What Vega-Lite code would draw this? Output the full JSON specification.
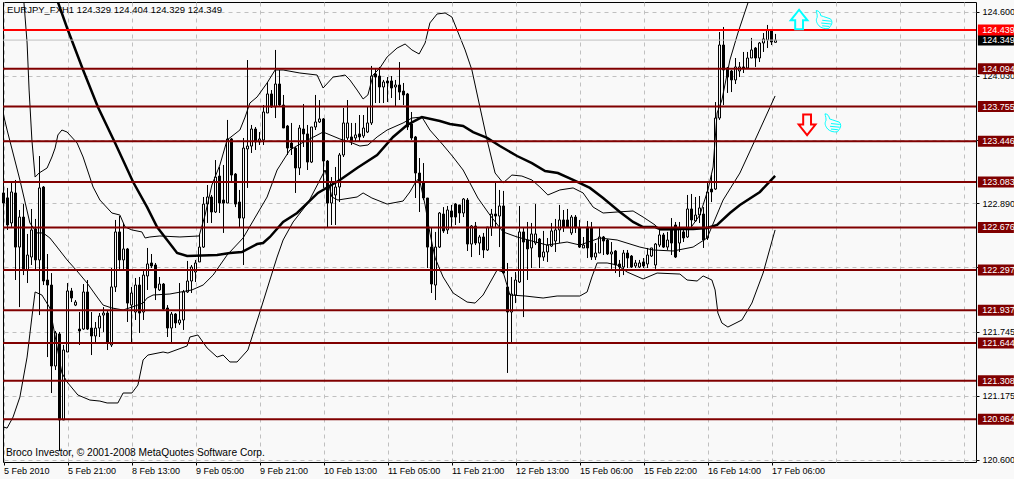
{
  "$schema": "https://vega.github.io/schema/vega-lite/v6.json",
  "width": 973,
  "height": 460,
  "autosize": {"type": "none"},
  "padding": {"left": 3, "top": 2, "right": 38, "bottom": 17},
  "background": "#f9f9f9",
  "view": {"stroke": "#000000", "strokeWidth": 1, "fill": "#f9f9f9"},
  "config": {
    "font": "Liberation Sans",
    "axis": {"labelFont": "Liberation Sans", "labelFontSize": 9, "labelColor": "#000000", "title": null}
  },
  "datasets": {
    "candles": [
      {"i":0,"o":122.984,"h":122.984,"l":122.894,"c":122.894},
      {"i":1,"o":122.940,"h":123.029,"l":122.654,"c":122.698},
      {"i":2,"o":122.716,"h":123.073,"l":122.681,"c":122.993},
      {"i":3,"o":122.984,"h":123.100,"l":122.207,"c":122.501},
      {"i":4,"o":122.501,"h":122.832,"l":121.965,"c":122.769},
      {"i":5,"o":122.769,"h":122.885,"l":122.251,"c":122.306},
      {"i":6,"o":122.296,"h":122.618,"l":122.180,"c":122.430},
      {"i":7,"o":122.412,"h":122.841,"l":122.341,"c":122.654},
      {"i":8,"o":122.663,"h":122.752,"l":122.296,"c":122.386},
      {"i":9,"o":122.386,"h":123.314,"l":121.894,"c":123.029},
      {"i":10,"o":123.037,"h":123.046,"l":122.162,"c":122.198},
      {"i":11,"o":122.207,"h":122.439,"l":121.519,"c":122.162},
      {"i":12,"o":122.162,"h":122.269,"l":121.198,"c":121.439},
      {"i":13,"o":121.439,"h":121.752,"l":121.403,"c":121.734},
      {"i":14,"o":121.725,"h":121.743,"l":120.680,"c":120.957},
      {"i":15,"o":120.957,"h":121.627,"l":120.957,"c":121.582},
      {"i":16,"o":121.564,"h":122.180,"l":121.564,"c":122.109},
      {"i":17,"o":122.109,"h":122.136,"l":122.010,"c":122.046},
      {"i":18,"o":121.983,"h":122.028,"l":121.974,"c":122.010},
      {"i":19,"o":121.769,"h":121.921,"l":121.627,"c":121.752},
      {"i":20,"o":121.769,"h":122.171,"l":121.761,"c":122.100},
      {"i":21,"o":122.100,"h":122.207,"l":121.761,"c":121.769},
      {"i":22,"o":121.778,"h":121.921,"l":121.537,"c":121.707},
      {"i":23,"o":121.707,"h":121.832,"l":121.644,"c":121.778},
      {"i":24,"o":121.778,"h":121.912,"l":121.698,"c":121.885},
      {"i":25,"o":121.894,"h":121.965,"l":121.743,"c":121.912},
      {"i":26,"o":121.912,"h":121.930,"l":121.582,"c":121.644},
      {"i":27,"o":121.627,"h":122.314,"l":121.609,"c":122.145},
      {"i":28,"o":122.145,"h":122.743,"l":122.100,"c":122.636},
      {"i":29,"o":122.636,"h":122.778,"l":122.296,"c":122.386},
      {"i":30,"o":122.386,"h":122.716,"l":122.296,"c":122.484},
      {"i":31,"o":122.484,"h":122.493,"l":121.832,"c":122.001},
      {"i":32,"o":121.983,"h":122.145,"l":121.653,"c":122.091},
      {"i":33,"o":121.921,"h":122.225,"l":121.850,"c":122.162},
      {"i":34,"o":122.162,"h":122.234,"l":121.734,"c":121.912},
      {"i":35,"o":121.921,"h":122.296,"l":121.850,"c":122.251},
      {"i":36,"o":122.243,"h":122.493,"l":122.118,"c":122.350},
      {"i":37,"o":122.359,"h":122.439,"l":122.314,"c":122.332},
      {"i":38,"o":122.341,"h":122.359,"l":122.028,"c":122.136},
      {"i":39,"o":122.118,"h":122.234,"l":122.109,"c":122.171},
      {"i":40,"o":122.171,"h":122.180,"l":121.939,"c":121.948},
      {"i":41,"o":121.957,"h":121.983,"l":121.698,"c":121.778},
      {"i":42,"o":121.778,"h":121.921,"l":121.653,"c":121.903},
      {"i":43,"o":121.903,"h":121.912,"l":121.778,"c":121.823},
      {"i":44,"o":121.823,"h":122.180,"l":121.805,"c":121.850},
      {"i":45,"o":121.850,"h":122.118,"l":121.761,"c":122.100},
      {"i":46,"o":122.100,"h":122.377,"l":122.091,"c":122.198},
      {"i":47,"o":122.198,"h":122.341,"l":122.091,"c":122.323},
      {"i":48,"o":122.278,"h":122.386,"l":122.189,"c":122.359},
      {"i":49,"o":122.368,"h":122.609,"l":122.368,"c":122.501},
      {"i":50,"o":122.501,"h":122.948,"l":122.493,"c":122.885},
      {"i":51,"o":122.885,"h":123.055,"l":122.716,"c":122.948},
      {"i":52,"o":122.948,"h":122.966,"l":122.716,"c":122.814},
      {"i":53,"o":122.814,"h":123.278,"l":122.805,"c":123.126},
      {"i":54,"o":123.135,"h":123.216,"l":122.805,"c":122.894},
      {"i":55,"o":122.921,"h":123.234,"l":122.627,"c":122.894},
      {"i":56,"o":122.894,"h":123.636,"l":122.894,"c":123.466},
      {"i":57,"o":123.466,"h":123.475,"l":123.082,"c":123.144},
      {"i":58,"o":123.153,"h":123.162,"l":122.858,"c":122.885},
      {"i":59,"o":122.903,"h":123.011,"l":122.680,"c":122.760},
      {"i":60,"o":122.760,"h":123.475,"l":122.341,"c":123.385},
      {"i":61,"o":123.377,"h":124.171,"l":123.029,"c":123.403},
      {"i":62,"o":123.403,"h":123.591,"l":123.341,"c":123.555},
      {"i":63,"o":123.555,"h":123.573,"l":123.368,"c":123.439},
      {"i":64,"o":123.439,"h":123.528,"l":123.412,"c":123.466},
      {"i":65,"o":123.457,"h":123.769,"l":123.412,"c":123.707},
      {"i":66,"o":123.698,"h":123.975,"l":123.698,"c":123.868},
      {"i":67,"o":123.868,"h":123.903,"l":123.743,"c":123.752},
      {"i":68,"o":123.752,"h":124.261,"l":123.653,"c":123.957},
      {"i":69,"o":123.957,"h":124.082,"l":123.752,"c":123.769},
      {"i":70,"o":123.769,"h":123.859,"l":123.564,"c":123.564},
      {"i":71,"o":123.582,"h":123.591,"l":123.323,"c":123.385},
      {"i":72,"o":123.430,"h":123.609,"l":123.323,"c":123.385},
      {"i":73,"o":123.385,"h":123.394,"l":122.984,"c":123.207},
      {"i":74,"o":123.207,"h":123.591,"l":123.144,"c":123.564},
      {"i":75,"o":123.555,"h":123.778,"l":123.394,"c":123.511},
      {"i":76,"o":123.511,"h":123.591,"l":123.189,"c":123.260},
      {"i":77,"o":123.260,"h":123.573,"l":123.251,"c":123.573},
      {"i":78,"o":123.573,"h":123.859,"l":123.546,"c":123.618},
      {"i":79,"o":123.618,"h":123.814,"l":123.609,"c":123.645},
      {"i":80,"o":123.645,"h":123.653,"l":123.029,"c":123.269},
      {"i":81,"o":123.269,"h":123.278,"l":122.680,"c":122.894},
      {"i":82,"o":122.894,"h":123.126,"l":122.698,"c":123.082},
      {"i":83,"o":122.966,"h":123.216,"l":122.698,"c":123.037},
      {"i":84,"o":123.037,"h":123.341,"l":122.903,"c":123.323},
      {"i":85,"o":123.323,"h":123.743,"l":123.305,"c":123.609},
      {"i":86,"o":123.475,"h":123.814,"l":123.457,"c":123.609},
      {"i":87,"o":123.484,"h":123.609,"l":123.412,"c":123.448},
      {"i":88,"o":123.475,"h":123.609,"l":123.439,"c":123.502},
      {"i":89,"o":123.511,"h":123.680,"l":123.439,"c":123.484},
      {"i":90,"o":123.493,"h":123.680,"l":123.475,"c":123.564},
      {"i":91,"o":123.528,"h":123.752,"l":123.519,"c":123.609},
      {"i":92,"o":123.609,"h":124.118,"l":123.591,"c":124.028},
      {"i":93,"o":124.046,"h":124.100,"l":123.787,"c":124.019},
      {"i":94,"o":124.028,"h":124.109,"l":123.787,"c":123.930},
      {"i":95,"o":123.930,"h":123.993,"l":123.787,"c":123.975},
      {"i":96,"o":123.984,"h":124.019,"l":123.796,"c":123.966},
      {"i":97,"o":123.984,"h":124.028,"l":123.832,"c":123.921},
      {"i":98,"o":123.930,"h":123.993,"l":123.760,"c":123.948},
      {"i":99,"o":123.948,"h":124.153,"l":123.814,"c":123.885},
      {"i":100,"o":123.894,"h":123.966,"l":123.769,"c":123.859},
      {"i":101,"o":123.868,"h":123.877,"l":123.546,"c":123.573},
      {"i":102,"o":123.600,"h":123.707,"l":123.457,"c":123.475},
      {"i":103,"o":123.484,"h":123.493,"l":122.939,"c":123.162},
      {"i":104,"o":123.162,"h":123.296,"l":122.814,"c":123.073},
      {"i":105,"o":123.073,"h":123.251,"l":122.921,"c":122.939},
      {"i":106,"o":122.939,"h":122.939,"l":122.314,"c":122.501},
      {"i":107,"o":122.501,"h":122.680,"l":122.091,"c":122.171},
      {"i":108,"o":122.162,"h":122.636,"l":122.028,"c":122.501},
      {"i":109,"o":122.501,"h":122.814,"l":122.493,"c":122.805},
      {"i":110,"o":122.796,"h":122.858,"l":122.627,"c":122.645},
      {"i":111,"o":122.654,"h":122.868,"l":122.618,"c":122.832},
      {"i":112,"o":122.823,"h":122.877,"l":122.671,"c":122.769},
      {"i":113,"o":122.885,"h":122.894,"l":122.698,"c":122.769},
      {"i":114,"o":122.877,"h":122.877,"l":122.716,"c":122.805},
      {"i":115,"o":122.805,"h":122.939,"l":122.769,"c":122.930},
      {"i":116,"o":122.921,"h":122.939,"l":122.466,"c":122.528},
      {"i":117,"o":122.528,"h":122.698,"l":122.412,"c":122.689},
      {"i":118,"o":122.689,"h":122.725,"l":122.519,"c":122.537},
      {"i":119,"o":122.537,"h":122.609,"l":122.430,"c":122.591},
      {"i":120,"o":122.591,"h":122.627,"l":122.403,"c":122.475},
      {"i":121,"o":122.475,"h":122.680,"l":122.466,"c":122.680},
      {"i":122,"o":122.680,"h":122.841,"l":122.600,"c":122.796},
      {"i":123,"o":122.796,"h":123.073,"l":122.680,"c":122.778},
      {"i":124,"o":122.778,"h":123.011,"l":122.501,"c":122.868},
      {"i":125,"o":122.868,"h":123.002,"l":122.269,"c":122.269},
      {"i":126,"o":122.145,"h":122.359,"l":121.377,"c":121.921},
      {"i":127,"o":121.921,"h":122.234,"l":121.653,"c":122.082},
      {"i":128,"o":122.073,"h":122.278,"l":122.001,"c":122.207},
      {"i":129,"o":122.189,"h":122.868,"l":122.180,"c":122.636},
      {"i":130,"o":122.636,"h":122.671,"l":121.876,"c":122.546},
      {"i":131,"o":122.564,"h":122.725,"l":122.207,"c":122.484},
      {"i":132,"o":122.493,"h":122.716,"l":122.314,"c":122.618},
      {"i":133,"o":122.537,"h":122.885,"l":122.519,"c":122.618},
      {"i":134,"o":122.573,"h":122.582,"l":122.314,"c":122.412},
      {"i":135,"o":122.412,"h":122.645,"l":122.377,"c":122.457},
      {"i":136,"o":122.457,"h":122.582,"l":122.368,"c":122.519},
      {"i":137,"o":122.510,"h":122.716,"l":122.501,"c":122.645},
      {"i":138,"o":122.555,"h":122.752,"l":122.457,"c":122.654},
      {"i":139,"o":122.654,"h":122.877,"l":122.537,"c":122.743},
      {"i":140,"o":122.743,"h":122.832,"l":122.636,"c":122.680},
      {"i":141,"o":122.743,"h":122.841,"l":122.671,"c":122.680},
      {"i":142,"o":122.627,"h":122.787,"l":122.609,"c":122.769},
      {"i":143,"o":122.769,"h":122.787,"l":122.627,"c":122.671},
      {"i":144,"o":122.671,"h":122.743,"l":122.493,"c":122.501},
      {"i":145,"o":122.493,"h":122.591,"l":122.493,"c":122.519},
      {"i":146,"o":122.680,"h":122.734,"l":122.403,"c":122.493},
      {"i":147,"o":122.671,"h":122.725,"l":122.386,"c":122.412},
      {"i":148,"o":122.412,"h":122.537,"l":122.386,"c":122.448},
      {"i":149,"o":122.448,"h":122.680,"l":122.448,"c":122.591},
      {"i":150,"o":122.591,"h":122.600,"l":122.430,"c":122.555},
      {"i":151,"o":122.564,"h":122.573,"l":122.430,"c":122.439},
      {"i":152,"o":122.439,"h":122.546,"l":122.306,"c":122.457},
      {"i":153,"o":122.466,"h":122.475,"l":122.269,"c":122.341},
      {"i":154,"o":122.350,"h":122.386,"l":122.234,"c":122.323},
      {"i":155,"o":122.323,"h":122.475,"l":122.251,"c":122.448},
      {"i":156,"o":122.448,"h":122.475,"l":122.314,"c":122.403},
      {"i":157,"o":122.421,"h":122.430,"l":122.314,"c":122.323},
      {"i":158,"o":122.332,"h":122.386,"l":122.314,"c":122.359},
      {"i":159,"o":122.323,"h":122.386,"l":122.314,"c":122.359},
      {"i":160,"o":122.368,"h":122.403,"l":122.314,"c":122.332},
      {"i":161,"o":122.350,"h":122.493,"l":122.314,"c":122.430},
      {"i":162,"o":122.421,"h":122.493,"l":122.412,"c":122.493},
      {"i":163,"o":122.341,"h":122.537,"l":122.306,"c":122.528},
      {"i":164,"o":122.519,"h":122.654,"l":122.501,"c":122.609},
      {"i":165,"o":122.609,"h":122.627,"l":122.493,"c":122.501},
      {"i":166,"o":122.501,"h":122.636,"l":122.475,"c":122.564},
      {"i":167,"o":122.671,"h":122.760,"l":122.430,"c":122.537},
      {"i":168,"o":122.698,"h":122.725,"l":122.403,"c":122.412},
      {"i":169,"o":122.537,"h":122.725,"l":122.457,"c":122.671},
      {"i":170,"o":122.636,"h":122.671,"l":122.546,"c":122.582},
      {"i":171,"o":122.591,"h":122.966,"l":122.582,"c":122.841},
      {"i":172,"o":122.841,"h":122.975,"l":122.671,"c":122.743},
      {"i":173,"o":122.734,"h":122.948,"l":122.725,"c":122.787},
      {"i":174,"o":122.787,"h":122.957,"l":122.716,"c":122.850},
      {"i":175,"o":122.796,"h":122.858,"l":122.493,"c":122.564},
      {"i":176,"o":122.582,"h":123.073,"l":122.564,"c":122.993},
      {"i":177,"o":123.019,"h":123.144,"l":122.903,"c":122.993},
      {"i":178,"o":123.019,"h":123.796,"l":123.011,"c":123.653},
      {"i":179,"o":123.653,"h":124.421,"l":123.636,"c":124.305},
      {"i":180,"o":124.305,"h":124.466,"l":123.769,"c":124.082},
      {"i":181,"o":124.100,"h":124.109,"l":123.877,"c":124.019},
      {"i":182,"o":124.073,"h":124.082,"l":123.885,"c":123.993},
      {"i":183,"o":123.993,"h":124.189,"l":123.957,"c":124.109},
      {"i":184,"o":124.073,"h":124.153,"l":124.019,"c":124.109},
      {"i":185,"o":124.109,"h":124.243,"l":124.055,"c":124.100},
      {"i":186,"o":124.100,"h":124.243,"l":124.100,"c":124.189},
      {"i":187,"o":124.189,"h":124.368,"l":124.189,"c":124.261},
      {"i":188,"o":124.278,"h":124.287,"l":124.109,"c":124.189},
      {"i":189,"o":124.189,"h":124.332,"l":124.153,"c":124.323},
      {"i":190,"o":124.323,"h":124.412,"l":124.243,"c":124.359},
      {"i":191,"o":124.350,"h":124.484,"l":124.278,"c":124.439},
      {"i":192,"o":124.430,"h":124.430,"l":124.305,"c":124.332},
      {"i":193,"o":124.329,"h":124.404,"l":124.329,"c":124.349}
    ],
    "bands": [
      {"s":"upper","i":5.1,"v":124.689},{"s":"upper","i":5.9,"v":124.323},{"s":"upper","i":6.4,"v":123.903},{"s":"upper","i":7.1,"v":123.457},{"s":"upper","i":7.9,"v":123.126},{"s":"upper","i":8.9,"v":123.162},{"s":"upper","i":10.9,"v":123.207},{"s":"upper","i":12.1,"v":123.305},{"s":"upper","i":12.9,"v":123.385},{"s":"upper","i":13.6,"v":123.502},{"s":"upper","i":14.6,"v":123.546},{"s":"upper","i":15.9,"v":123.528},{"s":"upper","i":18.4,"v":123.430},{"s":"upper","i":19.9,"v":123.305},{"s":"upper","i":22.4,"v":123.037},{"s":"upper","i":24.1,"v":122.921},{"s":"upper","i":27.1,"v":122.805},{"s":"upper","i":29.1,"v":122.787},{"s":"upper","i":30.4,"v":122.680},{"s":"upper","i":32.1,"v":122.654},{"s":"upper","i":34.6,"v":122.636},{"s":"upper","i":35.4,"v":122.582},{"s":"upper","i":36.6,"v":122.591},{"s":"upper","i":39.1,"v":122.600},{"s":"upper","i":44.1,"v":122.591},{"s":"upper","i":48.9,"v":122.600},{"s":"upper","i":50.4,"v":122.787},{"s":"upper","i":52.1,"v":123.055},{"s":"upper","i":54.1,"v":123.234},{"s":"upper","i":55.9,"v":123.457},{"s":"upper","i":59.1,"v":123.546},{"s":"upper","i":60.4,"v":123.662},{"s":"upper","i":61.6,"v":123.787},{"s":"upper","i":63.4,"v":123.841},{"s":"upper","i":65.9,"v":123.966},{"s":"upper","i":67.9,"v":124.082},{"s":"upper","i":69.9,"v":124.082},{"s":"upper","i":74.1,"v":124.055},{"s":"upper","i":78.4,"v":124.037},{"s":"upper","i":79.9,"v":123.921},{"s":"upper","i":82.4,"v":124.019},{"s":"upper","i":84.1,"v":124.028},{"s":"upper","i":85.4,"v":124.037},{"s":"upper","i":86.6,"v":123.993},{"s":"upper","i":88.4,"v":123.903},{"s":"upper","i":89.9,"v":123.823},{"s":"upper","i":91.1,"v":123.859},{"s":"upper","i":92.4,"v":124.037},{"s":"upper","i":94.1,"v":124.100},{"s":"upper","i":95.9,"v":124.198},{"s":"upper","i":98.4,"v":124.278},{"s":"upper","i":100.4,"v":124.314},{"s":"upper","i":102.1,"v":124.261},{"s":"upper","i":103.9,"v":124.225},{"s":"upper","i":105.4,"v":124.323},{"s":"upper","i":106.6,"v":124.502},{"s":"upper","i":108.4,"v":124.582},{"s":"upper","i":110.4,"v":124.591},{"s":"upper","i":112.1,"v":124.555},{"s":"upper","i":113.4,"v":124.439},{"s":"upper","i":115.4,"v":124.261},{"s":"upper","i":117.1,"v":124.082},{"s":"upper","i":119.1,"v":123.752},{"s":"upper","i":120.9,"v":123.457},{"s":"upper","i":122.9,"v":123.162},{"s":"upper","i":124.9,"v":123.073},{"s":"upper","i":127.1,"v":123.144},{"s":"upper","i":129.6,"v":123.135},{"s":"upper","i":132.1,"v":123.100},{"s":"upper","i":134.1,"v":123.037},{"s":"upper","i":136.1,"v":122.966},{"s":"upper","i":139.1,"v":123.011},{"s":"upper","i":142.4,"v":123.029},{"s":"upper","i":144.9,"v":122.984},{"s":"upper","i":147.4,"v":122.858},{"s":"upper","i":149.9,"v":122.805},{"s":"upper","i":153.4,"v":122.814},{"s":"upper","i":157.4,"v":122.823},{"s":"upper","i":159.9,"v":122.769},{"s":"upper","i":162.9,"v":122.698},{"s":"upper","i":164.1,"v":122.654},{"s":"upper","i":167.4,"v":122.654},{"s":"upper","i":171.6,"v":122.663},{"s":"upper","i":174.1,"v":122.787},{"s":"upper","i":176.1,"v":123.011},{"s":"upper","i":177.4,"v":123.216},{"s":"upper","i":178.4,"v":123.698},{"s":"upper","i":179.6,"v":123.814},{"s":"upper","i":181.6,"v":124.171},{"s":"upper","i":183.6,"v":124.412},{"s":"upper","i":186.1,"v":124.680},
      {"s":"middle","i":0,"v":123.680},{"s":"middle","i":0.9,"v":123.546},{"s":"middle","i":4.1,"v":123.100},{"s":"middle","i":6.6,"v":122.716},{"s":"middle","i":8.4,"v":122.627},{"s":"middle","i":9.9,"v":122.627},{"s":"middle","i":11.6,"v":122.582},{"s":"middle","i":13.4,"v":122.501},{"s":"middle","i":15.9,"v":122.386},{"s":"middle","i":18.6,"v":122.278},{"s":"middle","i":20.9,"v":122.180},{"s":"middle","i":23.4,"v":122.055},{"s":"middle","i":24.9,"v":121.983},{"s":"middle","i":27.1,"v":121.957},{"s":"middle","i":29.9,"v":121.939},{"s":"middle","i":32.1,"v":121.965},{"s":"middle","i":34.9,"v":122.001},{"s":"middle","i":35.9,"v":122.046},{"s":"middle","i":37.4,"v":122.073},{"s":"middle","i":41.6,"v":122.082},{"s":"middle","i":47.1,"v":122.118},{"s":"middle","i":49.9,"v":122.162},{"s":"middle","i":52.4,"v":122.251},{"s":"middle","i":55.9,"v":122.430},{"s":"middle","i":59.9,"v":122.582},{"s":"middle","i":65.9,"v":122.948},{"s":"middle","i":68.4,"v":123.189},{"s":"middle","i":71.6,"v":123.368},{"s":"middle","i":74.6,"v":123.430},{"s":"middle","i":79.9,"v":123.528},{"s":"middle","i":84.1,"v":123.466},{"s":"middle","i":86.6,"v":123.439},{"s":"middle","i":89.1,"v":123.403},{"s":"middle","i":91.1,"v":123.412},{"s":"middle","i":93.4,"v":123.484},{"s":"middle","i":95.9,"v":123.546},{"s":"middle","i":99.9,"v":123.609},{"s":"middle","i":102.1,"v":123.653},{"s":"middle","i":104.6,"v":123.662},{"s":"middle","i":106.6,"v":123.546},{"s":"middle","i":109.9,"v":123.412},{"s":"middle","i":112.4,"v":123.305},{"s":"middle","i":114.9,"v":123.189},{"s":"middle","i":118.6,"v":122.939},{"s":"middle","i":121.6,"v":122.787},{"s":"middle","i":124.9,"v":122.636},{"s":"middle","i":128.4,"v":122.591},{"s":"middle","i":135.9,"v":122.519},{"s":"middle","i":140.9,"v":122.546},{"s":"middle","i":144.1,"v":122.519},{"s":"middle","i":149.1,"v":122.582},{"s":"middle","i":153.4,"v":122.564},{"s":"middle","i":159.1,"v":122.501},{"s":"middle","i":162.4,"v":122.475},{"s":"middle","i":167.4,"v":122.466},{"s":"middle","i":172.4,"v":122.501},{"s":"middle","i":175.9,"v":122.582},{"s":"middle","i":179.9,"v":122.921},{"s":"middle","i":184.1,"v":123.162},{"s":"middle","i":187.9,"v":123.457},{"s":"middle","i":192.9,"v":123.850},
      {"s":"lower","i":0,"v":120.894},{"s":"lower","i":0.9,"v":120.885},{"s":"lower","i":2.4,"v":120.984},{"s":"lower","i":4.1,"v":121.162},{"s":"lower","i":5.9,"v":121.519},{"s":"lower","i":7.1,"v":121.876},{"s":"lower","i":7.9,"v":122.100},{"s":"lower","i":9.6,"v":122.073},{"s":"lower","i":11.6,"v":121.957},{"s":"lower","i":14.6,"v":121.377},{"s":"lower","i":15.9,"v":121.296},{"s":"lower","i":18.6,"v":121.180},{"s":"lower","i":21.6,"v":121.135},{"s":"lower","i":24.1,"v":121.126},{"s":"lower","i":25.9,"v":121.109},{"s":"lower","i":28.6,"v":121.109},{"s":"lower","i":29.9,"v":121.198},{"s":"lower","i":32.1,"v":121.198},{"s":"lower","i":33.6,"v":121.269},{"s":"lower","i":34.9,"v":121.493},{"s":"lower","i":36.1,"v":121.537},{"s":"lower","i":39.9,"v":121.564},{"s":"lower","i":41.1,"v":121.555},{"s":"lower","i":45.9,"v":121.618},{"s":"lower","i":46.6,"v":121.698},{"s":"lower","i":48.6,"v":121.716},{"s":"lower","i":50.9,"v":121.600},{"s":"lower","i":53.4,"v":121.519},{"s":"lower","i":54.9,"v":121.537},{"s":"lower","i":56.6,"v":121.475},{"s":"lower","i":58.4,"v":121.475},{"s":"lower","i":61.1,"v":121.582},{"s":"lower","i":64.1,"v":121.921},{"s":"lower","i":66.6,"v":122.207},{"s":"lower","i":68.4,"v":122.412},{"s":"lower","i":69.9,"v":122.564},{"s":"lower","i":72.4,"v":122.725},{"s":"lower","i":76.1,"v":122.894},{"s":"lower","i":79.1,"v":123.100},{"s":"lower","i":80.4,"v":123.189},{"s":"lower","i":82.1,"v":122.948},{"s":"lower","i":83.6,"v":122.921},{"s":"lower","i":88.4,"v":122.948},{"s":"lower","i":89.9,"v":122.984},{"s":"lower","i":92.1,"v":122.939},{"s":"lower","i":95.9,"v":122.885},{"s":"lower","i":99.9,"v":122.912},{"s":"lower","i":101.6,"v":122.993},{"s":"lower","i":102.9,"v":123.073},{"s":"lower","i":103.9,"v":123.118},{"s":"lower","i":105.4,"v":122.877},{"s":"lower","i":106.6,"v":122.627},{"s":"lower","i":107.9,"v":122.403},{"s":"lower","i":109.9,"v":122.234},{"s":"lower","i":112.4,"v":122.091},{"s":"lower","i":115.9,"v":122.010},{"s":"lower","i":117.9,"v":122.001},{"s":"lower","i":119.9,"v":122.073},{"s":"lower","i":123.4,"v":122.296},{"s":"lower","i":124.9,"v":122.278},{"s":"lower","i":126.6,"v":122.073},{"s":"lower","i":130.4,"v":122.064},{"s":"lower","i":134.9,"v":122.046},{"s":"lower","i":138.4,"v":122.064},{"s":"lower","i":144.1,"v":122.064},{"s":"lower","i":145.9,"v":122.100},{"s":"lower","i":147.1,"v":122.234},{"s":"lower","i":148.4,"v":122.359},{"s":"lower","i":150.9,"v":122.359},{"s":"lower","i":153.4,"v":122.341},{"s":"lower","i":155.9,"v":122.278},{"s":"lower","i":159.9,"v":122.216},{"s":"lower","i":163.4,"v":122.269},{"s":"lower","i":169.1,"v":122.260},{"s":"lower","i":170.9,"v":122.207},{"s":"lower","i":173.4,"v":122.198},{"s":"lower","i":174.9,"v":122.243},{"s":"lower","i":177.1,"v":122.207},{"s":"lower","i":177.9,"v":122.118},{"s":"lower","i":178.6,"v":121.912},{"s":"lower","i":179.6,"v":121.823},{"s":"lower","i":181.1,"v":121.787},{"s":"lower","i":184.6,"v":121.850},{"s":"lower","i":187.1,"v":122.001},{"s":"lower","i":189.9,"v":122.269},{"s":"lower","i":192.9,"v":122.654}
    ],
    "ma": [
      {"i":13.6,"v":124.689},{"i":15.9,"v":124.457},{"i":19.9,"v":124.082},{"i":23.6,"v":123.752},{"i":27.9,"v":123.430},{"i":32.4,"v":123.082},{"i":35.9,"v":122.858},{"i":38.4,"v":122.680},{"i":40.9,"v":122.564},{"i":43.4,"v":122.448},{"i":45.9,"v":122.421},{"i":53.4,"v":122.430},{"i":56.6,"v":122.448},{"i":59.6,"v":122.457},{"i":63.4,"v":122.528},{"i":64.9,"v":122.537},{"i":66.6,"v":122.591},{"i":69.9,"v":122.725},{"i":73.4,"v":122.805},{"i":78.6,"v":122.984},{"i":84.1,"v":123.100},{"i":88.4,"v":123.207},{"i":93.4,"v":123.323},{"i":97.4,"v":123.484},{"i":100.9,"v":123.591},{"i":104.6,"v":123.662},{"i":109.1,"v":123.627},{"i":111.6,"v":123.600},{"i":114.9,"v":123.582},{"i":117.4,"v":123.528},{"i":120.9,"v":123.475},{"i":124.1,"v":123.403},{"i":128.4,"v":123.314},{"i":132.1,"v":123.251},{"i":135.4,"v":123.180},{"i":138.6,"v":123.162},{"i":142.4,"v":123.100},{"i":146.6,"v":123.029},{"i":149.9,"v":122.939},{"i":154.1,"v":122.814},{"i":157.4,"v":122.725},{"i":159.9,"v":122.680},{"i":162.9,"v":122.680},{"i":164.1,"v":122.663},{"i":172.4,"v":122.663},{"i":175.9,"v":122.671},{"i":178.4,"v":122.698},{"i":181.6,"v":122.805},{"i":184.1,"v":122.876},{"i":189.1,"v":122.993},{"i":192.9,"v":123.136}
    ],
    "levels": [
      {"price":124.439,"kind":"top"},{"price":124.094,"kind":"level"},{"price":123.755,"kind":"level"},{"price":123.446,"kind":"level"},{"price":123.083,"kind":"level"},{"price":122.676,"kind":"level"},{"price":122.297,"kind":"level"},{"price":121.937,"kind":"level"},{"price":121.644,"kind":"level"},{"price":121.308,"kind":"level"},{"price":120.964,"kind":"level"}
    ],
    "tags": [
      {"price":124.349,"kind":"bid"},{"price":124.439,"kind":"top"},{"price":124.094,"kind":"level"},{"price":123.755,"kind":"level"},{"price":123.446,"kind":"level"},{"price":123.083,"kind":"level"},{"price":122.676,"kind":"level"},{"price":122.297,"kind":"level"},{"price":121.937,"kind":"level"},{"price":121.644,"kind":"level"},{"price":121.308,"kind":"level"},{"price":120.964,"kind":"level"}
    ]
  },
  "layer": [
    {
      "data": {"name": "candles"},
      "mark": {"type": "rule", "color": "#000000", "strokeWidth": 1},
      "encoding": {
        "x": {
          "field": "i",
          "type": "quantitative",
          "scale": {"domain": [-0.125, 243.125], "nice": false, "zero": false, "padding": 0},
          "axis": {
            "values": [0,8,16,24,32,40,48,56,64,72,80,88,96,104,112,120,128,136,144,152,160,168,176,184,192,200,208,216,224,232,240],
            "grid": true,
            "gridColor": "#c0c0c0",
            "gridDash": [4, 4],
            "gridWidth": 1,
            "domain": false,
            "tickColor": "#000000",
            "tickSize": 3,
            "tickOpacity": {"condition": {"test": "datum.value % 16 == 0 && datum.value <= 192", "value": 1}, "value": 0},
            "labelAlign": "left",
            "labelPadding": 1,
            "labelOverlap": false,
            "labelFlush": false,
            "labelExpr": "{'0':'5 Feb 2010','16':'5 Feb 21:00','32':'8 Feb 13:00','48':'9 Feb 05:00','64':'9 Feb 21:00','80':'10 Feb 13:00','96':'11 Feb 05:00','112':'11 Feb 21:00','128':'12 Feb 13:00','144':'15 Feb 06:00','160':'15 Feb 22:00','176':'16 Feb 14:00','192':'17 Feb 06:00'}[datum.value] || ''"
          }
        },
        "y": {
          "field": "l",
          "type": "quantitative",
          "scale": {"domain": [120.582, 124.689], "nice": false, "zero": false, "padding": 0},
          "axis": {
            "orient": "right",
            "values": [124.6,124.315,124.03,123.745,123.46,123.175,122.89,122.6,122.32,122.03,121.745,121.46,121.175,120.885,120.6],
            "format": ".3f",
            "grid": true,
            "gridColor": "#c0c0c0",
            "gridDash": [4, 4],
            "gridWidth": 1,
            "domain": false,
            "tickColor": "#000000",
            "tickSize": 3,
            "labelPadding": 3,
            "labelOverlap": false,
            "labelFlush": false
          }
        },
        "y2": {"field": "h"}
      }
    },
    {
      "data": {"name": "candles"},
      "mark": {"type": "bar", "width": 2, "stroke": "#000000", "strokeWidth": 1},
      "encoding": {
        "x": {"field": "i", "type": "quantitative"},
        "y": {"field": "o", "type": "quantitative"},
        "y2": {"field": "c"},
        "fill": {"condition": {"test": "datum.c > datum.o", "value": "#f9f9f9"}, "value": "#000000"}
      }
    },
    {
      "data": {"name": "bands"},
      "mark": {"type": "line", "color": "#000000", "strokeWidth": 1, "clip": true},
      "encoding": {
        "x": {"field": "i", "type": "quantitative"},
        "y": {"field": "v", "type": "quantitative"},
        "detail": {"field": "s"}
      }
    },
    {
      "data": {"name": "ma"},
      "mark": {"type": "line", "color": "#000000", "strokeWidth": 2.5, "clip": true},
      "encoding": {
        "x": {"field": "i", "type": "quantitative"},
        "y": {"field": "v", "type": "quantitative"}
      }
    },
    {
      "data": {"values": [{"price": 124.349}]},
      "mark": {"type": "rule", "color": "#c0c0c0", "strokeWidth": 1},
      "encoding": {"y": {"field": "price", "type": "quantitative"}}
    },
    {
      "data": {"name": "levels"},
      "mark": {"type": "rule", "strokeWidth": 2},
      "encoding": {
        "y": {"field": "price", "type": "quantitative"},
        "color": {
          "field": "kind",
          "type": "nominal",
          "scale": {"domain": ["top", "level", "bid"], "range": ["#ff0000", "#800000", "#000000"]},
          "legend": null
        }
      }
    },
    {
      "data": {"values": [{"i": 198.9, "v": 124.52}]},
      "mark": {"type": "point", "filled": false, "fill": "#f9f9f9", "fillOpacity": 1, "stroke": "#00ffff", "strokeWidth": 2, "size": 500, "opacity": 1, "shape": "M0,-1 L0.75,-0.05 L0.35,-0.05 L0.35,0.75 L-0.35,0.75 L-0.35,-0.05 L-0.75,-0.05 Z"},
      "encoding": {
        "x": {"field": "i", "type": "quantitative"},
        "y": {"field": "v", "type": "quantitative"}
      }
    },
    {
      "data": {"values": [{"i": 200.9, "v": 123.6}]},
      "mark": {"type": "point", "filled": false, "fill": "#f9f9f9", "fillOpacity": 1, "stroke": "#ff0000", "strokeWidth": 2, "size": 500, "opacity": 1, "shape": "M0,1 L0.75,0.05 L0.35,0.05 L0.35,-0.85 L-0.35,-0.85 L-0.35,0.05 L-0.75,0.05 Z"},
      "encoding": {
        "x": {"field": "i", "type": "quantitative"},
        "y": {"field": "v", "type": "quantitative"}
      }
    },
    {
      "data": {"values": [{"i": 204.9, "v": 124.53}, {"i": 207.1, "v": 123.608}]},
      "mark": {"type": "point", "filled": false, "fill": "#f9f9f9", "fillOpacity": 1, "stroke": "#00ffff", "strokeWidth": 1, "size": 340, "opacity": 1, "shape": "M-0.75,-1 C-0.45,-1 -0.3,-0.75 -0.25,-0.45 L0.05,-0.35 L0.8,-0.1 C1,0.1 1,0.4 0.85,0.6 L0.6,0.95 C0.2,1 -0.2,0.9 -0.45,0.65 C-0.75,0.3 -0.8,0 -0.65,-0.25 C-0.6,-0.5 -0.7,-0.75 -0.75,-1 Z M-0.1,0.05 L0.85,0.15 M-0.2,0.35 L0.85,0.45 M-0.1,0.65 L0.65,0.72"},
      "encoding": {
        "x": {"field": "i", "type": "quantitative"},
        "y": {"field": "v", "type": "quantitative"}
      }
    },
    {
      "data": {"name": "tags"},
      "mark": {"type": "tick", "thickness": 11, "size": 36, "orient": "horizontal", "opacity": 1},
      "encoding": {
        "x": {"datum": 248.1},
        "y": {"field": "price", "type": "quantitative"},
        "color": {
          "field": "kind",
          "type": "nominal",
          "scale": {"domain": ["top", "level", "bid"], "range": ["#ff0000", "#800000", "#000000"]},
          "legend": null
        }
      }
    },
    {
      "data": {"name": "tags"},
      "mark": {"type": "text", "align": "left", "baseline": "middle", "color": "#ffffff", "fontSize": 9, "font": "Liberation Sans"},
      "encoding": {
        "x": {"datum": 244.7},
        "y": {"field": "price", "type": "quantitative"},
        "text": {"field": "price", "type": "quantitative", "format": ".3f"}
      }
    },
    {
      "data": {"values": [{"i": 0.9, "v": 124.618, "t": "EURJPY_FXH1   124.329 124.404 124.329 124.349"}]},
      "mark": {"type": "text", "align": "left", "baseline": "middle", "color": "#000000", "fontSize": 9.5, "font": "Liberation Sans"},
      "encoding": {
        "x": {"field": "i", "type": "quantitative"},
        "y": {"field": "v", "type": "quantitative"},
        "text": {"field": "t"}
      }
    },
    {
      "data": {"values": [{"i": 0.6, "v": 120.662, "t": "Broco Investor, © 2001-2008 MetaQuotes Software Corp."}]},
      "mark": {"type": "text", "align": "left", "baseline": "middle", "color": "#000000", "fontSize": 10.2, "font": "Liberation Sans"},
      "encoding": {
        "x": {"field": "i", "type": "quantitative"},
        "y": {"field": "v", "type": "quantitative"},
        "text": {"field": "t"}
      }
    }
  ]
}
